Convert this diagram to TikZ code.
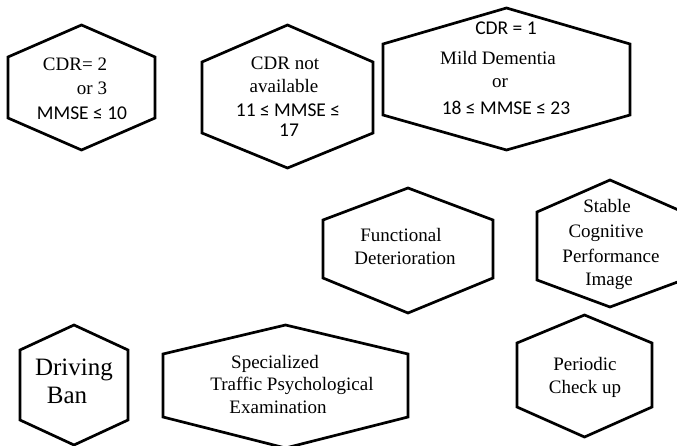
\documentclass[tikz,border=0pt]{standalone}
\usepackage{fontspec}
\setmainfont{Liberation Serif}
\newfontfamily\calfont{Carlito}
\usepackage{tikz}
\usetikzlibrary{positioning}

\begin{document}
\begin{tikzpicture}[x=1pt,y=-1pt,
  hexline/.style={draw=black,line width=2.7pt},
  lbl/.style={anchor=base,inner sep=0pt,font=\fontsize{19}{23}\selectfont},
  cal/.style={anchor=base,inner sep=0pt,text depth=0pt,font=\calfont\fontsize{19.5}{23}\selectfont},
  big/.style={anchor=base,inner sep=0pt,font=\fontsize{25}{29}\selectfont}]
\useasboundingbox (0,0) rectangle (677,446);
\clip (0,0) rectangle (677,446);

\draw[hexline] (81.5,25) -- (155,57) -- (155,118) -- (81.5,150) -- (8,118) -- (8,57) -- cycle;
\draw[hexline] (287.5,25) -- (373,62) -- (373,133) -- (287.5,168) -- (202,133) -- (202,62) -- cycle;
\draw[hexline] (506.5,8) -- (630,44) -- (630,115) -- (506.5,150) -- (383,115) -- (383,44) -- cycle;
\draw[hexline] (408,188) -- (493,220) -- (493,278) -- (408,313) -- (323,278) -- (323,220) -- cycle;
\draw[hexline] (610,180) -- (683,212) -- (683,280) -- (610,307) -- (537,280) -- (537,212) -- cycle;
\draw[hexline] (74,325) -- (128,350) -- (128,420) -- (74,445) -- (20,420) -- (20,350) -- cycle;
\draw[hexline] (285.5,325) -- (408,354) -- (408,417) -- (285.5,448) -- (163,417) -- (163,354) -- cycle;
\draw[hexline] (584.5,315) -- (652,343) -- (652,407) -- (584.5,437) -- (517,407) -- (517,343) -- cycle;

\node[lbl] (cdrtwo) at (75,71) {CDR= 2};
\node[lbl] (orthree) at (92,95) {or 3};
\node[cal] (mmseten) at (82,120) {MMSE ≤ 10};

\node[lbl] (cdrnot) at (285,70) {CDR not};
\node[lbl] (avail) at (284,93) {available};
\node[cal] (mmsemid) at (288,117) {11 ≤ MMSE ≤};
\node[cal] (seventeen) at (289,137) {17};

\node[cal] (cdrone) at (506,35) {CDR = 1};
\node[lbl] (mild) at (498,65) {Mild Dementia};
\node[lbl] (ormild) at (500,88) {or};
\node[cal] (mmsehigh) at (506,115) {18 ≤ MMSE ≤ 23};

\node[lbl] (func) at (401,242) {Functional};
\node[lbl] (deter) at (405,265) {Deterioration};

\node[lbl] (stable) at (607,213) {Stable};
\node[lbl] (cogn) at (606,238) {Cognitive};
\node[lbl] (perf) at (611,262) {Performance};
\node[lbl] (image) at (609,286) {Image};

\node[big] (driving) at (74,375) {Driving};
\node[big] (ban) at (67,403) {Ban};

\node[lbl] (spec) at (275,368) {Specialized};
\node[lbl] (traffic) at (292,390) {Traffic Psychological};
\node[lbl] (exam) at (278,413) {Examination};

\node[lbl] (periodic) at (585,370) {Periodic};
\node[lbl] (checkup) at (585,393) {Check up};

\end{tikzpicture}
\end{document}
